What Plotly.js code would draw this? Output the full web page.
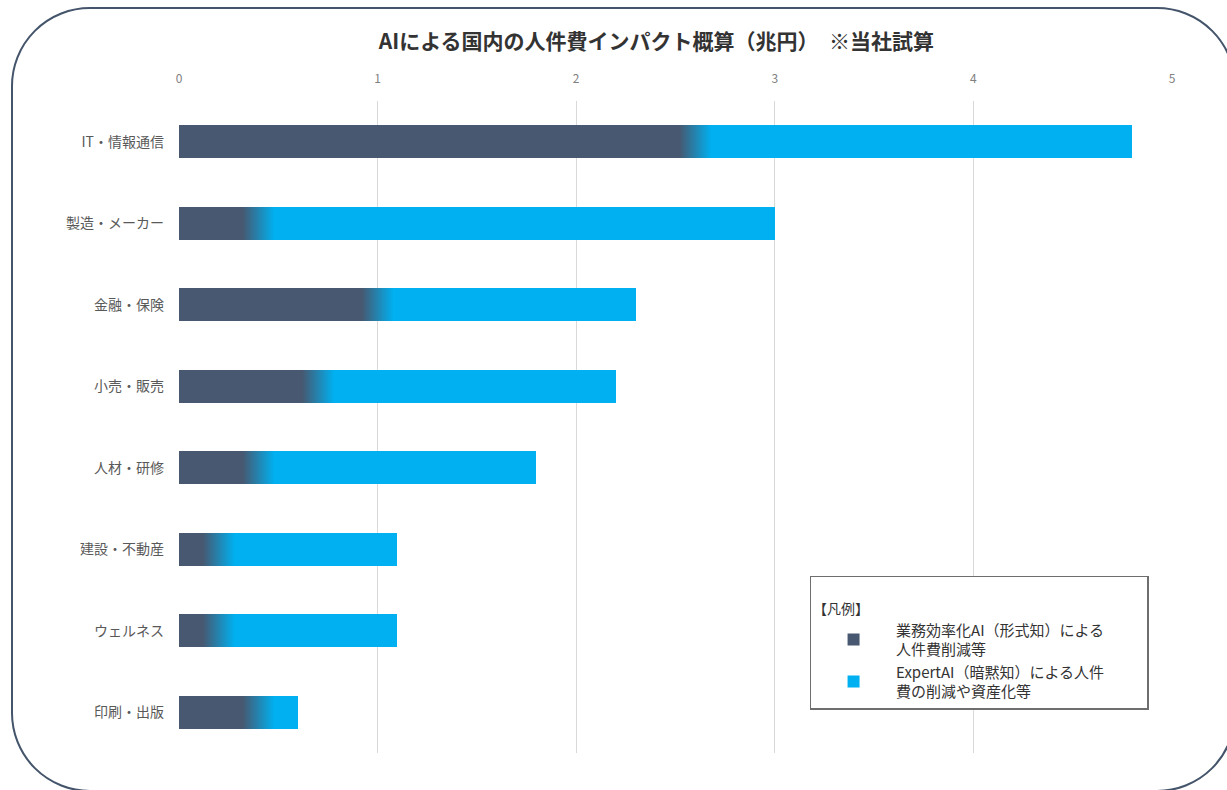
<!DOCTYPE html>
<html>
<head>
<meta charset="utf-8">
<script src="https://cdn.plot.ly/plotly-3.0.1.min.js"></script>
<style>
html,body{margin:0;padding:0;background:#fff;overflow:hidden;}
#wrap{position:relative;width:1227px;height:790px;overflow:hidden;}
#chart{position:absolute;left:0;top:0;width:1227px;height:790px;}
#frame{position:absolute;left:11px;top:7px;width:1225px;height:785px;border:2px solid #44546a;border-radius:79px;pointer-events:none;box-sizing:border-box;}
</style>
</head>
<body>
<div id="wrap">
<div id="chart"></div>
<div id="frame"></div>
</div>
<script>
const categories = ['IT・情報通信','製造・メーカー','金融・保険','小売・販売','人材・研修','建設・不動産','ウェルネス','印刷・出版'];
const efficiencyAI = [2.6, 0.4, 1.0, 0.7, 0.4, 0.2, 0.2, 0.4];
const expertAI = [2.2, 2.6, 1.3, 1.5, 1.4, 0.9, 0.9, 0.2];
const seriesNames = ['業務効率化AI（形式知）による　　\u2002<br>人件費削減等', 'ExpertAI（暗黙知）による人件<br>費の削減や資産化等'];
const xTicks = [0, 1, 2, 3, 4, 5];

const DARK = '#475870';
const CYAN = '#00b0f0';
const FONT = '"Noto Sans CJK JP", "Noto Sans", sans-serif';

const traces = [
  {type:'bar', orientation:'h', y:categories, x:efficiencyAI, name:seriesNames[0],
   marker:{color:DARK}, hoverinfo:'none'},
  {type:'bar', orientation:'h', y:categories, x:expertAI, name:seriesNames[1],
   marker:{color:CYAN}, hoverinfo:'none'}
];

const layout = {
  width:1227, height:790,
  margin:{l:179, r:55, t:101, b:37},
  paper_bgcolor:'rgba(0,0,0,0)', plot_bgcolor:'rgba(0,0,0,0)',
  barmode:'stack', bargap:0.6,
  font:{family:FONT, color:'#595959'},
  title:{text:'AIによる国内の人件費インパクト概算（兆円）　※当社試算',
    font:{family:FONT, size:21, color:'#333333', weight:'bold'},
    x:0.535, xanchor:'center', y:0.947, yanchor:'middle'},
  xaxis:{side:'top', range:[0,5], tickvals:xTicks, ticktext:xTicks.map(String),
    showgrid:true, gridcolor:'#d9d9d9', gridwidth:1, zeroline:false, showline:false,
    ticks:'', ticklabelstandoff:15, tickfont:{size:12, color:'#808080'}, fixedrange:true},
  yaxis:{autorange:'reversed', showgrid:false, showline:false, zeroline:false, ticks:'',
    ticklabelstandoff:14, tickfont:{size:14, color:'#595959'}, fixedrange:true},
  showlegend:true,
  legend:{x:0.635, xanchor:'left', y:0.272, yanchor:'top',
    bgcolor:'#ffffff', bordercolor:'#6e6e6e', borderwidth:1.5,
    title:{text:' <br>【凡例】', side:'top', font:{size:14, color:'#333333'}},
    font:{size:15, color:'#333333'}, traceorder:'normal', tracegroupgap:0,
    itemwidth:75},
};

Plotly.newPlot('chart', traces, layout, {displayModeBar:false, staticPlot:true}).then(function(gd){
  const svg = gd.querySelector('svg.main-svg');
  let defs = svg.querySelector('defs');
  if(!defs){ defs = document.createElementNS('http://www.w3.org/2000/svg','defs'); svg.insertBefore(defs, svg.firstChild); }
  const trs = gd.querySelectorAll('.barlayer .trace');
  if(trs.length < 2) return;
  const dk = trs[0].querySelectorAll('.point path');
  const lt = trs[1].querySelectorAll('.point path');
  for(let i=0;i<dk.length;i++){
    const bb = dk[i].getBBox();
    const xe = bb.x + bb.width;
    const g = document.createElementNS('http://www.w3.org/2000/svg','linearGradient');
    g.setAttribute('id','bg'+i);
    g.setAttribute('gradientUnits','userSpaceOnUse');
    g.setAttribute('x1', xe-16); g.setAttribute('x2', xe+16);
    g.setAttribute('y1', 0); g.setAttribute('y2', 0);
    const s1 = document.createElementNS('http://www.w3.org/2000/svg','stop');
    s1.setAttribute('offset','0'); s1.setAttribute('stop-color',DARK);
    const s2 = document.createElementNS('http://www.w3.org/2000/svg','stop');
    s2.setAttribute('offset','1'); s2.setAttribute('stop-color',CYAN);
    g.appendChild(s1); g.appendChild(s2); defs.appendChild(g);
    dk[i].style.fill = 'url(#bg'+i+')';
    if(lt[i]) lt[i].style.fill = 'url(#bg'+i+')';
  }
});
</script>
</body>
</html>
